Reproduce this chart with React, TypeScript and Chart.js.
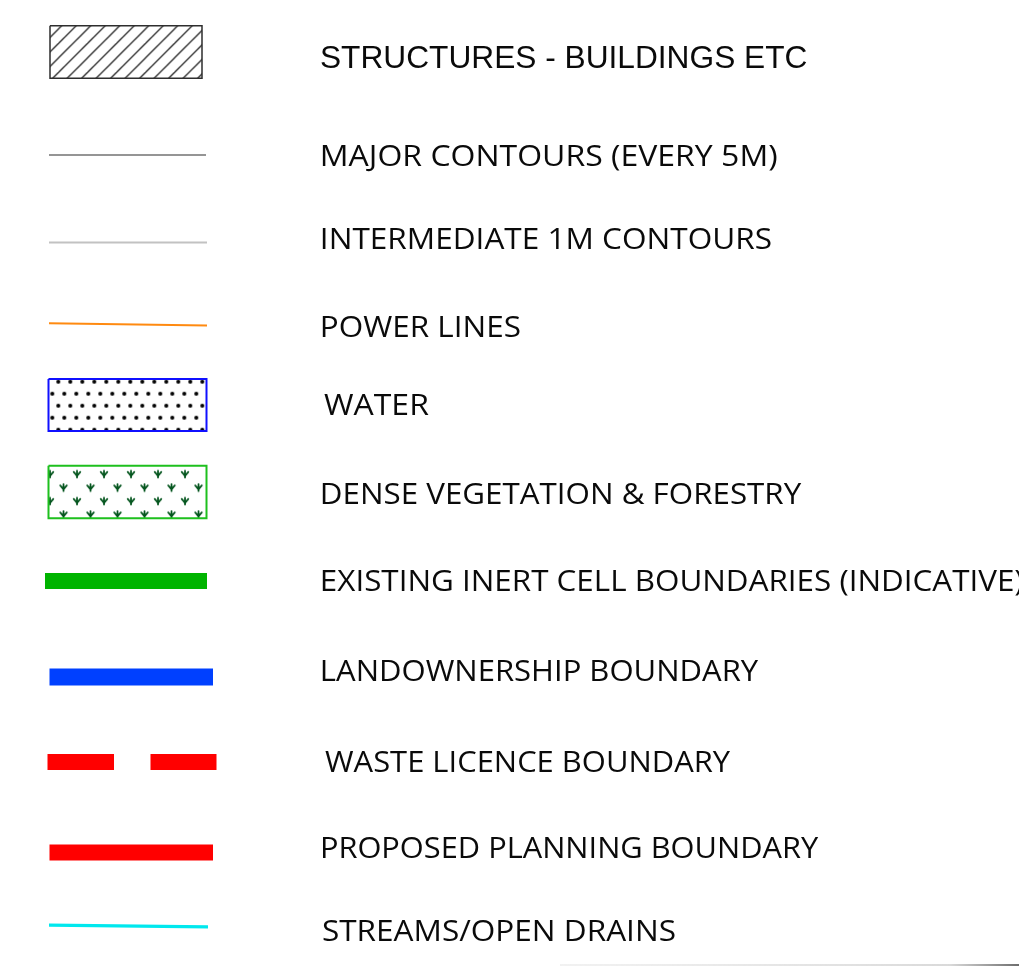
import React, { useEffect, useRef } from 'react';
import { Chart, registerables } from 'chart.js';

Chart.register(...registerables);

// ---- legend content (data) ----
const ROW_LABELS = [
  'STRUCTURES - BUILDINGS ETC',
  'MAJOR CONTOURS (EVERY 5M)',
  'INTERMEDIATE 1M CONTOURS',
  'POWER LINES',
  'WATER',
  'DENSE VEGETATION & FORESTRY',
  'EXISTING INERT CELL BOUNDARIES (INDICATIVE)',
  'LANDOWNERSHIP BOUNDARY',
  'WASTE LICENCE BOUNDARY',
  'PROPOSED PLANNING BOUNDARY',
  'STREAMS/OPEN DRAINS',
];
const ROW_KIND = ['hatch', 'line', 'line', 'line', 'dots', 'veg', 'line', 'line', 'dash', 'line', 'line'];
const ROW_COLOR = [
  '#2e2e2e', '#959595', '#c2c2c2', '#ff8a10', '#1010ff', '#1ec01e',
  '#00b400', '#0040ff', '#ff0000', '#ff0000', '#00e8ee',
];

// ---- layout (axis units == pixels of the 1019 x 966 canvas) ----
const AXIS_W = 1019;
const AXIS_H = 966;
const ROW_Y = [52, 155, 242.5, 324.4, 405, 492, 581, 677, 762, 852.5, 926];
const SYMBOL_X0 = [50, 49, 49, 49, 48.5, 48.5, 45, 49.5, 47.5, 49.5, 49];
const SYMBOL_X1 = [202, 206, 207, 207, 206.5, 206.5, 207, 213, 216.5, 213, 208];
const SYMBOL_DY = [0, 0, 0, 2.3, 0, 0, 0, 0, 0, 0, 1.7];
const SYMBOL_H = [52.5, 0, 0, 0, 52, 52.5, 0, 0, 0, 0, 0];
const SYMBOL_LW = [1.5, 2, 2, 2, 2, 2, 16, 17, 16, 16, 3.4];
const TEXT_X0 = [321, 322, 322, 322, 324, 322, 322, 322, 325, 322, 323];
const TEXT_X1 = [807, 777, 771, 520, 429, 802, 1023, 759, 731, 819, 675];
const TEXT_Y = [56.5, 155.5, 238.5, 327, 405, 494, 580.5, 671, 762, 848, 931];
const TEXT_SIZE = [31, 29, 29, 29, 29, 29, 29, 29, 29, 29, 29];
const TEXT_FONT = ['"Liberation Sans", Arial', '"Open Sans"', '"Open Sans"', '"Open Sans"', '"Open Sans"', '"Open Sans"', '"Open Sans"', '"Open Sans"', '"Open Sans"', '"Open Sans"', '"Open Sans"'];
const TEXT_CAP = [0.716, 0.714, 0.714, 0.714, 0.714, 0.714, 0.714, 0.714, 0.714, 0.714, 0.714];
const FOOT_X = [560, 1019];
const FOOT_Y = 965;

function tile(w: number, h: number) {
  const c = document.createElement('canvas');
  c.width = w;
  c.height = h;
  return { c, g: c.getContext('2d') as CanvasRenderingContext2D };
}

function hatchPattern(ctx: CanvasRenderingContext2D, color: string) {
  const { c, g } = tile(29, 29);
  g.strokeStyle = color;
  g.lineWidth = 1.3;
  for (let k = 0; k <= 4; k++) {
    const cc = k * 14.5;
    g.beginPath();
    g.moveTo(cc + 30, -30);
    g.lineTo(cc - 30, 30);
    g.stroke();
  }
  const p = ctx.createPattern(c, 'repeat') as CanvasPattern;
  p.setTransform(new DOMMatrix([1, 0, 0, 1, 0.4, 0]));
  return p;
}

function dotPattern(ctx: CanvasRenderingContext2D) {
  const { c, g } = tile(12, 24);
  g.fillStyle = '#000';
  [[3, 3], [9, 15]].forEach(([x, y]) => {
    g.beginPath();
    g.arc(x, y, 2, 0, Math.PI * 2);
    g.fill();
  });
  const p = ctx.createPattern(c, 'repeat') as CanvasPattern;
  p.setTransform(new DOMMatrix([1, 0, 0, 1, 55.3, 378.7]));
  return p;
}

function vegPattern(ctx: CanvasRenderingContext2D) {
  const { c, g } = tile(27, 27);
  g.strokeStyle = '#05561f';
  g.fillStyle = '#05561f';
  g.lineWidth = 1.8;
  g.lineCap = 'round';
  [[6, 6], [19.5, 19.5]].forEach(([x, y]) => {
    g.beginPath();
    g.moveTo(x, y - 3.5);
    g.lineTo(x, y + 3.2);
    g.moveTo(x - 3.3, y - 2.3);
    g.lineTo(x, y + 1.5);
    g.lineTo(x + 3.3, y - 2.3);
    g.stroke();
    g.beginPath();
    g.moveTo(x - 2.2, y);
    g.lineTo(x + 2.2, y);
    g.lineTo(x, y + 3);
    g.closePath();
    g.fill();
  });
  const p = ctx.createPattern(c, 'repeat') as CanvasPattern;
  p.setTransform(new DOMMatrix([1, 0, 0, 1, 44, 468.3]));
  return p;
}

const textPlugin = {
  id: 'legendText',
  afterDatasetsDraw(chart: any) {
    const { ctx, scales } = chart;
    const xs = scales.x;
    const ys = scales.y;
    ROW_LABELS.forEach((label, i) => {
      ctx.save();
      ctx.font = `${TEXT_SIZE[i]}px ${TEXT_FONT[i]}`;
      ctx.textAlign = 'left';
      ctx.textBaseline = 'alphabetic';
      const m = ctx.measureText(label);
      const inkW = m.actualBoundingBoxRight + m.actualBoundingBoxLeft;
      const left = xs.getPixelForValue(TEXT_X0[i]);
      const right = xs.getPixelForValue(TEXT_X1[i]);
      const sx = (right - left) / inkW;
      const base = ys.getPixelForValue(TEXT_Y[i]) + (TEXT_SIZE[i] * TEXT_CAP[i]) / 2;
      ctx.translate(left + m.actualBoundingBoxLeft * sx, base);
      ctx.scale(sx, 1);
      ctx.fillStyle = '#0a0a0a';
      ctx.fillText(label, 0, 0);
      ctx.restore();
    });
  },
};

export default function App() {
  const ref = useRef<HTMLCanvasElement | null>(null);

  useEffect(() => {
    document.body.style.margin = '0';
    const canvas = ref.current;
    if (!canvas) return;
    const ctx = canvas.getContext('2d') as CanvasRenderingContext2D;

    const datasets: any[] = ROW_KIND.map((kind, i) => {
      const x0 = SYMBOL_X0[i];
      const x1 = SYMBOL_X1[i];
      const y = ROW_Y[i];
      const base = {
        label: ROW_LABELS[i],
        borderColor: ROW_COLOR[i],
        borderWidth: SYMBOL_LW[i],
        pointRadius: 0,
        tension: 0,
      };
      if (kind === 'hatch' || kind === 'dots' || kind === 'veg') {
        const h = SYMBOL_H[i] / 2;
        const bg = kind === 'hatch' ? hatchPattern(ctx, '#2e2e2e') : kind === 'dots' ? dotPattern(ctx) : vegPattern(ctx);
        return {
          ...base,
          data: [
            { x: x0, y: y - h },
            { x: x1, y: y - h },
            { x: x1, y: y + h },
            { x: x0, y: y + h },
            { x: x0, y: y - h },
          ],
          fill: 'shape',
          backgroundColor: bg,
          borderJoinStyle: 'miter',
        };
      }
      return {
        ...base,
        data: [
          { x: x0, y: y - SYMBOL_DY[i] / 2 },
          { x: x1, y: y + SYMBOL_DY[i] / 2 },
        ],
        fill: false,
        borderDash: kind === 'dash' ? [66.5, 36.5] : [],
        borderCapStyle: 'butt',
      };
    });

    datasets.push({
      label: 'frame',
      data: [
        { x: FOOT_X[0], y: FOOT_Y },
        { x: FOOT_X[1], y: FOOT_Y },
      ],
      borderWidth: 1.5,
      pointRadius: 0,
      fill: false,
      borderColor: (c: any) => {
        const ch = c.chart;
        const xs = ch.scales && ch.scales.x;
        if (!xs) return 'rgba(210,210,210,1)';
        const a = xs.getPixelForValue(FOOT_X[0]);
        const b = xs.getPixelForValue(FOOT_X[1]);
        if (!isFinite(a) || !isFinite(b) || a === b) return 'rgba(210,210,210,1)';
        const g = ch.ctx.createLinearGradient(a, 0, b, 0);
        g.addColorStop(0, 'rgba(225,225,225,0.6)');
        g.addColorStop(0.85, 'rgba(205,205,205,1)');
        g.addColorStop(1, 'rgba(60,60,60,1)');
        return g;
      },
    });

    const chart = new Chart(canvas, {
      type: 'line',
      data: { datasets },
      options: {
        animation: false,
        responsive: true,
        maintainAspectRatio: false,
        layout: { padding: 0 },
        events: [],
        scales: {
          x: { type: 'linear', min: 0, max: AXIS_W, display: false },
          y: { type: 'linear', min: 0, max: AXIS_H, reverse: true, display: false },
        },
        plugins: {
          legend: { display: false },
          tooltip: { enabled: false },
        },
      },
      plugins: [textPlugin],
    });
    return () => chart.destroy();
  }, []);

  return (
    <div style={{ position: 'absolute', left: 0, top: 0, width: AXIS_W, height: AXIS_H, background: '#fff' }}>
      <canvas ref={ref} />
    </div>
  );
}
